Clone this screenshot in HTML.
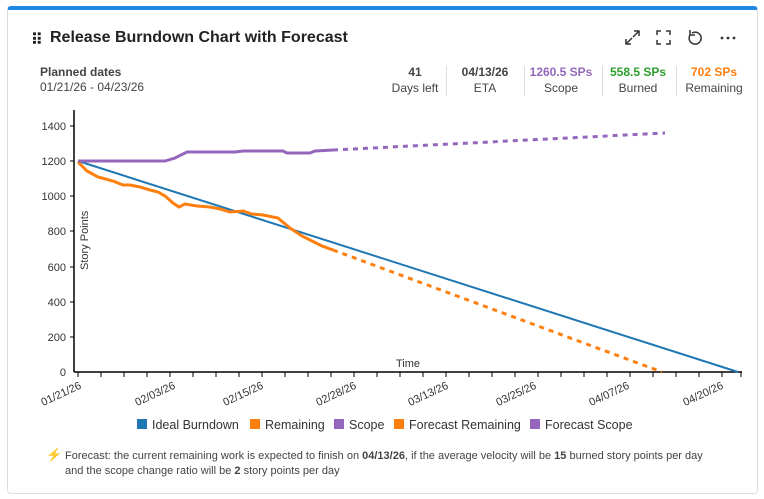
<!DOCTYPE html>
<html><head><meta charset="utf-8"><style>
body{margin:0;background:#fff;font-family:"Liberation Sans",sans-serif;}
.card{position:absolute;left:7px;top:6px;width:751px;height:488px;border:1px solid #ddd;border-top:4px solid #1e88e5;border-radius:4px;box-sizing:border-box;}
.t{position:absolute;white-space:nowrap;color:#333}
.st{position:absolute;top:65px;text-align:center;font-size:12px;color:#444}
.st b{display:block;font-size:12px;margin-bottom:2px}
.sep{position:absolute;top:66px;width:1px;height:30px;background:#ddd}
</style></head><body>
<div class="card"></div>
<div class="t" style="left:31px;top:30px;font-size:16px;font-weight:bold;color:#222">⠿</div>
<div class="t" style="left:50px;top:29px;font-size:16px;font-weight:bold;color:#222">Release Burndown Chart with Forecast</div>
<div class="t" style="left:40px;top:65px;font-size:12px;font-weight:bold;color:#444">Planned dates</div>
<div class="t" style="left:40px;top:80px;font-size:12px;color:#444">01/21/26 - 04/23/26</div>
<div class="st" style="left:388px;width:54px"><b>41</b>Days left</div>
<div class="sep" style="left:446px"></div>
<div class="st" style="left:452px;width:66px"><b>04/13/26</b>ETA</div>
<div class="sep" style="left:524px"></div>
<div class="st" style="left:528px;width:66px"><b style="color:#9467bd">1260.5 SPs</b>Scope</div>
<div class="sep" style="left:602px"></div>
<div class="st" style="left:606px;width:64px"><b style="color:#2ca02c">558.5 SPs</b>Burned</div>
<div class="sep" style="left:676px"></div>
<div class="st" style="left:682px;width:64px"><b style="color:#ff7f0e">702 SPs</b>Remaining</div>
<svg width="764" height="499" style="position:absolute;left:0;top:0" font-family="Liberation Sans,sans-serif" font-size="11" fill="#333">
<g stroke="#333" stroke-width="1.5" fill="none">
<path d="M626 44l6-6M626 39v5h5M639 31l-6 6M634 31h5v5"/>
<path d="M657 35v-4h4M666 31h4v4M670 40v4h-4M661 44h-4v-4"/>
<path d="M692 33a6 6 0 1 1-2 2M690 30v5h5"/>
</g>
<g fill="#333"><circle cx="722" cy="38" r="1.4"/><circle cx="728" cy="38" r="1.4"/><circle cx="734" cy="38" r="1.4"/></g>
<g stroke="#000" stroke-width="1.5">
<line x1="74" y1="110" x2="74" y2="372"/><line x1="74" y1="372" x2="742" y2="372"/>
</g>
<g stroke="#000" stroke-width="1">
<line x1="70" y1="126" x2="74" y2="126"/><line x1="70" y1="161" x2="74" y2="161"/><line x1="70" y1="196" x2="74" y2="196"/><line x1="70" y1="231" x2="74" y2="231"/><line x1="70" y1="267" x2="74" y2="267"/><line x1="70" y1="302" x2="74" y2="302"/><line x1="70" y1="337" x2="74" y2="337"/>
<path d="M78 372v5M101 372v5M124 372v5M147 372v5M170 372v5M193 372v5M216 372v5M239 372v5M262 372v5M285 372v5M308 372v5M331 372v5M354 372v5M377 372v5M400 372v5M423 372v5M446 372v5M469 372v5M492 372v5M515 372v5M538 372v5M561 372v5M584 372v5M607 372v5M630 372v5M653 372v5M676 372v5M699 372v5M722 372v5M741 372v5"/>
</g>
<g text-anchor="end">
<text x="66" y="130">1400</text><text x="66" y="165">1200</text><text x="66" y="200">1000</text><text x="66" y="235">800</text><text x="66" y="271">600</text><text x="66" y="306">400</text><text x="66" y="341">200</text><text x="66" y="376">0</text>
</g>
<text x="88" y="270" transform="rotate(-90 88 270)">Story Points</text>
<text x="396" y="367">Time</text>
<g text-anchor="end">
<text transform="translate(82,388) rotate(-25)">01/21/26</text>
<text transform="translate(176,388) rotate(-25)">02/03/26</text>
<text transform="translate(264,388) rotate(-25)">02/15/26</text>
<text transform="translate(357,388) rotate(-25)">02/28/26</text>
<text transform="translate(449,388) rotate(-25)">03/13/26</text>
<text transform="translate(537,388) rotate(-25)">03/25/26</text>
<text transform="translate(630,388) rotate(-25)">04/07/26</text>
<text transform="translate(724,388) rotate(-25)">04/20/26</text>
</g>
<line x1="78" y1="161" x2="738" y2="372" stroke="#1f77b4" stroke-width="2"/>
<polyline fill="none" stroke="#ff7f0e" stroke-width="3" points="78,162 87,171 98,177 113,181 123,185 130,185 140,187 150,190 158,192 165,196 173,203 179,207 185,204 197,206 210,207 220,209 230,212 243,211 252,214 263,215 278,218 290,228 302,236 312,241 322,246 333,250"/>
<line x1="333" y1="250" x2="662" y2="372" stroke="#ff7f0e" stroke-width="3" stroke-dasharray="5,5"/>
<polyline fill="none" stroke="#9467bd" stroke-width="3" points="78,161 165,161 175,158 187,152 235,152 243,151 283,151 287,153 310,153 315,151 333,150"/>
<line x1="333" y1="150" x2="665" y2="133" stroke="#9467bd" stroke-width="3" stroke-dasharray="5,5"/>
<g font-size="12.5">
<rect x="137" y="419" width="10" height="10" fill="#1f77b4"/><text x="152" y="429">Ideal Burndown</text>
<rect x="250" y="419" width="10" height="10" fill="#ff7f0e"/><text x="265" y="429">Remaining</text>
<rect x="334" y="419" width="10" height="10" fill="#9467bd"/><text x="349" y="429">Scope</text>
<rect x="394" y="419" width="10" height="10" fill="#ff7f0e"/><text x="409" y="429">Forecast Remaining</text>
<rect x="530" y="419" width="10" height="10" fill="#9467bd"/><text x="545" y="429">Forecast Scope</text>
</g>
<g font-size="11" fill="#444">
<text x="46" y="459" fill="#f5c518" font-size="13">⚡</text>
<text x="65" y="459">Forecast: the current remaining work is expected to finish on <tspan font-weight="bold">04/13/26</tspan>, if the average velocity will be <tspan font-weight="bold">15</tspan> burned story points per day</text>
<text x="65" y="474">and the scope change ratio will be <tspan font-weight="bold">2</tspan> story points per day</text>
</g>
</svg>
</body></html>
